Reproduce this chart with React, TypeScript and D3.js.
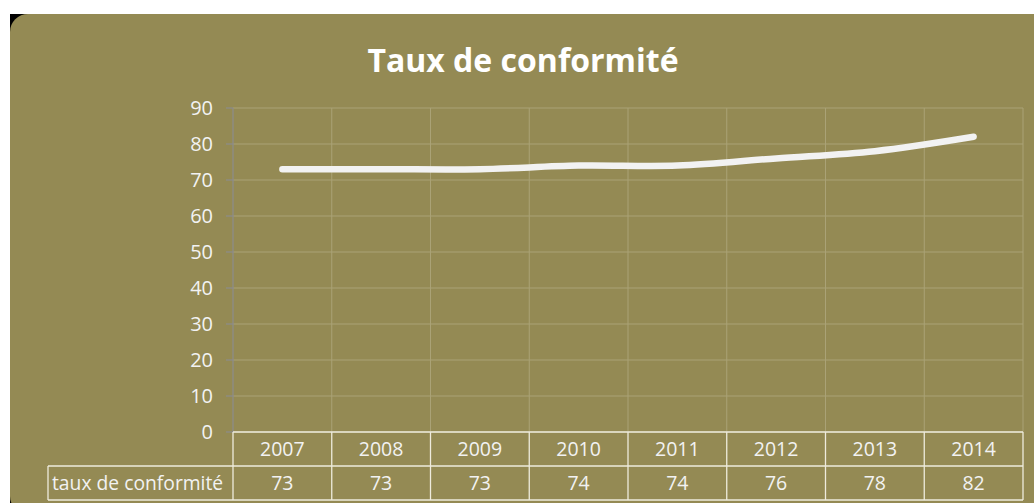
import React from "react";
import * as d3 from "d3";

const years = ["2007", "2008", "2009", "2010", "2011", "2012", "2013", "2014"];
const values = [73, 73, 73, 74, 74, 76, 78, 82];
const yTicks = [0, 10, 20, 30, 40, 50, 60, 70, 80, 90];
const seriesName = "taux de conformité";
const title = "Taux de conformité";

const W = 1034;
const H = 503;
const BG = "#948A54";
const GRID = "#AAA276";
const TXT = "#F2F2F2";
const FONT = "'Open Sans', 'Noto Sans', sans-serif";

export default function App() {
  const left = 233;
  const right = 1023;
  const top = 108;
  const bottom = 432;
  const x = d3.scaleBand<string>().domain(years).range([left, right]).padding(0);
  const y = d3.scaleLinear().domain([0, 90]).range([bottom, top]);
  const bw = x.bandwidth();
  const line = d3
    .line<number>()
    .x((_, i) => (x(years[i]) as number) + bw / 2)
    .y((d) => y(d))
    .curve(d3.curveCatmullRom.alpha(0.5));

  const row1 = bottom;
  const row2 = 466;
  const row3 = 500;
  const labelLeft = 48;

  return (
    <svg
      width={W}
      height={H}
      style={{ position: "absolute", left: 0, top: 0, background: "#fff" }}
    >
      <rect x={10} y={14} width={20} height={20} fill="#000" />
      <rect x={10} y={485} width={8} height={18} fill="#000" />
      <rect x={1031} y={14} width={3} height={2} fill="#000" />
      <rect x={10} y={14} width={1060} height={500} rx={18} ry={18} fill={BG} />

      <text
        x={523}
        y={72}
        textAnchor="middle"
        fill="#FFFFFF"
        fontFamily={FONT}
        fontWeight="bold"
        fontSize={32}
      >
        {title}
      </text>

      {/* horizontal gridlines */}
      {yTicks.map((t) => (
        <line key={"h" + t} x1={left} x2={right} y1={y(t)} y2={y(t)} stroke={GRID} strokeWidth={1} />
      ))}
      {/* vertical gridlines */}
      {years.map((yr) => (
        <line
          key={"v" + yr}
          x1={(x(yr) as number) + bw}
          x2={(x(yr) as number) + bw}
          y1={top}
          y2={bottom}
          stroke={GRID}
          strokeWidth={1}
        />
      ))}
      {/* axis */}
      <line x1={left} x2={left} y1={top} y2={bottom} stroke="#8C8C8C" strokeWidth={1.2} />
      {yTicks.map((t) => (
        <line key={"t" + t} x1={left - 7} x2={left} y1={y(t)} y2={y(t)} stroke="#8C8C8C" strokeWidth={1.2} />
      ))}
      {yTicks.map((t) => (
        <text
          key={"l" + t}
          x={213}
          y={y(t)}
          dy="0.36em"
          textAnchor="end"
          fill={TXT}
          fontFamily={FONT}
          fontSize={20}
        >
          {t}
        </text>
      ))}

      {/* series line */}
      <path
        d={line(values) || ""}
        fill="none"
        stroke={TXT}
        strokeWidth={6.5}
        strokeLinecap="round"
        strokeLinejoin="round"
      />

      {/* data table */}
      <g stroke="#EEEBDD" strokeWidth={1.3} fill="none">
        <line x1={left} x2={right} y1={row1} y2={row1} />
        <line x1={labelLeft} x2={right} y1={row2} y2={row2} />
        <line x1={labelLeft} x2={right} y1={row3} y2={row3} />
        <line x1={labelLeft} x2={labelLeft} y1={row2} y2={row3} />
        <line x1={left} x2={left} y1={row1} y2={row3} />
        {years.map((yr) => (
          <line
            key={"tv" + yr}
            x1={(x(yr) as number) + bw}
            x2={(x(yr) as number) + bw}
            y1={row1}
            y2={row3}
          />
        ))}
      </g>
      {years.map((yr) => (
        <text
          key={"ty" + yr}
          x={(x(yr) as number) + bw / 2}
          y={(row1 + row2) / 2}
          dy="0.36em"
          textAnchor="middle"
          fill={TXT}
          fontFamily={FONT}
          fontSize={19.5}
        >
          {yr}
        </text>
      ))}
      {values.map((v, i) => (
        <text
          key={"tvv" + i}
          x={(x(years[i]) as number) + bw / 2}
          y={(row2 + row3) / 2}
          dy="0.36em"
          textAnchor="middle"
          fill={TXT}
          fontFamily={FONT}
          fontSize={19.5}
        >
          {v}
        </text>
      ))}
      <text
        x={labelLeft + 4}
        y={(row2 + row3) / 2}
        dy="0.36em"
        fill={TXT}
        fontFamily={FONT}
        fontSize={19.3}
      >
        {seriesName}
      </text>
    </svg>
  );
}
